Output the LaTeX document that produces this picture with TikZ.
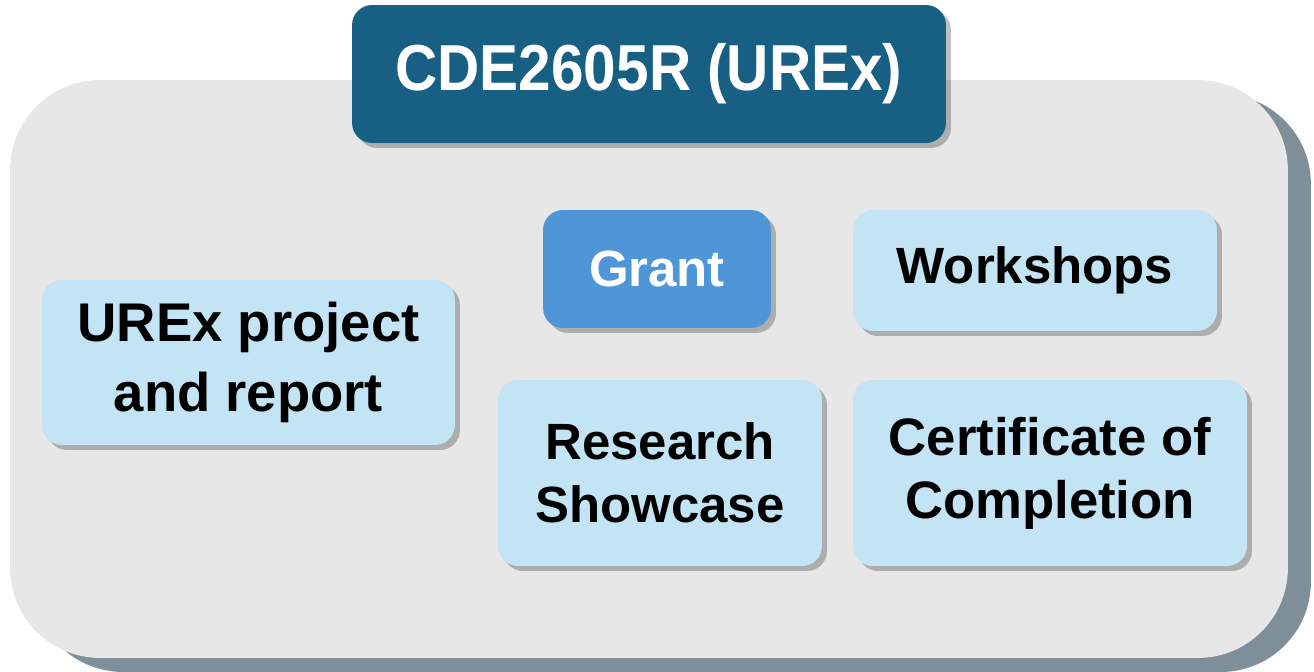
\documentclass[tikz,border=0pt]{standalone}
\usepackage{fontspec}
\setmainfont{Liberation Sans}
\newfontfamily\titlefont[FakeStretch=0.9]{Liberation Sans}
\usepackage{xcolor}
\usepackage{tikz}
\usetikzlibrary{positioning}
\usetikzlibrary{shadows}
\definecolor{panelgray}{HTML}{E7E7E7}
\definecolor{panelshade}{HTML}{7F8F99}
\definecolor{titleblue}{HTML}{176083}
\definecolor{grantblue}{HTML}{4F96D9}
\definecolor{itemblue}{HTML}{C2E4F5}
\tikzstyle{panel} = [rectangle, rounded corners=1.8cm, fill=panelgray, inner sep=0,
  drop shadow={shadow xshift=.46cm, shadow yshift=-.28cm, fill=panelshade, opacity=1}]
\tikzstyle{item} = [rectangle, rounded corners=.4cm, fill=itemblue, inner sep=0, align=center,
  font=\fontsize{29}{36}\selectfont\bfseries,
  drop shadow={shadow xshift=.1cm, shadow yshift=-.1cm, fill=black, opacity=.25}]
\tikzstyle{title} = [item, fill=titleblue, text=white, font=\titlefont\fontsize{37}{44}\selectfont\bfseries]

\begin{document}
\begin{tikzpicture}[x=0.02cm, y=-0.02cm]
\useasboundingbox (0,0) rectangle (1314,672);
\node [panel, minimum width=25.56cm, minimum height=11.56cm] (P) at (649, 369) {};
\node [title, minimum width=11.88cm, minimum height=2.76cm] (T) at (649, 74) {CDE2605R (UREx)};
\node [item, fill=grantblue, text=white, minimum width=4.56cm, minimum height=2.36cm] (G) at (657, 269) {Grant};
\node [item, minimum width=7.28cm, minimum height=2.42cm] (W) at (1035, 270.5) {Workshops};
\node [item, minimum width=8.26cm, minimum height=3.3cm, font=\fontsize{31}{40}\selectfont\bfseries] (U) at (248.5, 362.5) {UREx project\\and report};
\node [item, minimum width=6.48cm, minimum height=3.72cm] (R) at (660, 473) {Research\\Showcase};
\node [item, minimum width=7.88cm, minimum height=3.72cm, font=\fontsize{30}{36}\selectfont\bfseries] (C) at (1050, 473) {Certificate of\\Completion};
\end{tikzpicture}
\end{document}
